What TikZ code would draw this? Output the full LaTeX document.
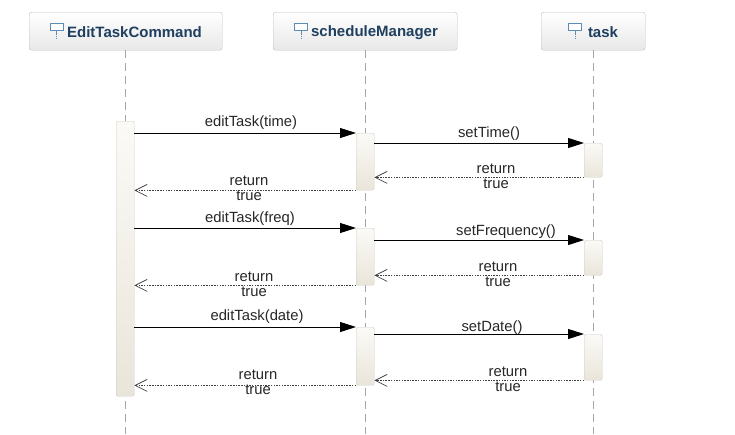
\documentclass[tikz,border=0pt]{standalone}
\usepackage{fontspec}
\setmainfont{Liberation Sans}
\usetikzlibrary{arrows.meta}
\definecolor{headtext}{HTML}{1E3F5F}
\definecolor{iconblue}{HTML}{5B8DB8}
\definecolor{barfoot}{HTML}{E9E5DA}
\definecolor{bartop}{HTML}{FBFAF7}
\definecolor{baredge}{HTML}{CFCBC0}
\tikzset{
	x=1pt, y=-1pt,
	head/.style={draw=black!25, rounded corners=2.5pt, top color=white, bottom color=black!9, anchor=north west, inner sep=0pt},
	headlabel/.style={text=headtext, font=\fontsize{15}{17}\selectfont\bfseries, inner sep=0pt, yshift=-1pt},
	life/.style={draw=black!35, dash pattern=on 8pt off 5pt, line width=0.7pt},
	activation/.style={draw=baredge, rounded corners=1.5pt, top color=bartop, bottom color=barfoot, anchor=north west, minimum width=18pt, inner sep=0pt},
	call/.style={draw=black, line width=0.9pt, -{Triangle[length=16pt,width=10pt]}},
	reply/.style={draw=black!75, line width=0.6pt, dash pattern=on 1.5pt off 1.2pt, -{Straight Barb[length=12pt,width=12pt,line width=0.7pt]}},
	msg/.style={text=black!85, font=\fontsize{14.8}{15}\selectfont, inner sep=0pt, align=center, yshift=-1pt},
	icon/.pic={
		\draw[iconblue, line width=0.7pt, fill=white] (-6.5,-8) rectangle (6.5,-1);
		\draw[iconblue, line width=0.7pt] (0,-1) -- (0,3);
		\draw[iconblue, line width=0.7pt, dash pattern=on 1pt off 1pt] (0,3) -- (0,8);
	}
}
\begin{document}
\begin{tikzpicture}
	\useasboundingbox (0,0) rectangle (735,434);

	% headers
	\node[head, minimum width=193pt, minimum height=38pt] (cmd) at (29,12) {};
	\node[head, minimum width=184pt, minimum height=38pt] (mgr) at (273,12) {};
	\node[head, minimum width=104pt, minimum height=38pt] (tsk) at (541,12) {};
	\node[headlabel] (cmdname) at (134.5,31.5) {EditTaskCommand};
	\node[headlabel] (mgrname) at (374.5,31.5) {scheduleManager};
	\node[headlabel] (tskname) at (603,31.5) {task};
	\pic at (56.5,31) {icon};
	\pic at (301,31) {icon};
	\pic at (575,31) {icon};

	% lifelines
	\coordinate (cmdend) at (125,434);
	\coordinate (mgrend) at (365,434);
	\coordinate (tskend) at (593,434);
	\draw[life] (cmd.south -| cmdend) -- (cmdend);
	\draw[life] (mgr.south -| mgrend) -- (mgrend);
	\draw[life] (tsk.south -| tskend) -- (tskend);

	% activations
	\node[activation, minimum height=275pt] (cmdbar) at (116,121) {};
	\node[activation, minimum height=57pt] (mgra) at (356,133) {};
	\node[activation, minimum height=57pt] (mgrb) at (356,228) {};
	\node[activation, minimum height=58pt] (mgrc) at (356,327) {};
	\node[activation, minimum height=34pt] (tska) at (584,143) {};
	\node[activation, minimum height=35pt] (tskb) at (584,240) {};
	\node[activation, minimum height=46pt] (tskc) at (584,334) {};

	% messages
	\draw[call] (cmdbar.east |- mgra.north) -- (mgra.north west);
	\draw[call] (mgra.east |- tska.north) -- (tska.north west);
	\draw[reply] (tska.south west) -- (mgra.east |- tska.south);
	\draw[reply] (mgra.south west) -- (cmdbar.east |- mgra.south);

	\draw[call] (cmdbar.east |- mgrb.north) -- (mgrb.north west);
	\draw[call] (mgrb.east |- tskb.north) -- (tskb.north west);
	\draw[reply] (tskb.south west) -- (mgrb.east |- tskb.south);
	\draw[reply] (mgrb.south west) -- (cmdbar.east |- mgrb.south);

	\draw[call] (cmdbar.east |- mgrc.north) -- (mgrc.north west);
	\draw[call] (mgrc.east |- tskc.north) -- (tskc.north west);
	\draw[reply] (tskc.south west) -- (mgrc.east |- tskc.south);
	\draw[reply] (mgrc.south west) -- (cmdbar.east |- mgrc.south);

	% labels
	\node[msg] (edittime) at (251,122) {editTask(time)};
	\node[msg] (settime) at (489,133) {setTime()};
	\node[msg] (rettaska) at (496,175.5) {return\\true};
	\node[msg] (retmgra) at (249,187.5) {return\\true};
	\node[msg] (editfreq) at (250,218) {editTask(freq)};
	\node[msg] (setfreq) at (506,231) {setFrequency()};
	\node[msg] (rettaskb) at (498,273.5) {return\\true};
	\node[msg] (retmgrb) at (254,283.5) {return\\true};
	\node[msg] (editdate) at (257,316) {editTask(date)};
	\node[msg] (setdate) at (492,327) {setDate()};
	\node[msg] (rettaskc) at (508,378.5) {return\\true};
	\node[msg] (retmgrc) at (258,381) {return\\true};
\end{tikzpicture}
\end{document}
